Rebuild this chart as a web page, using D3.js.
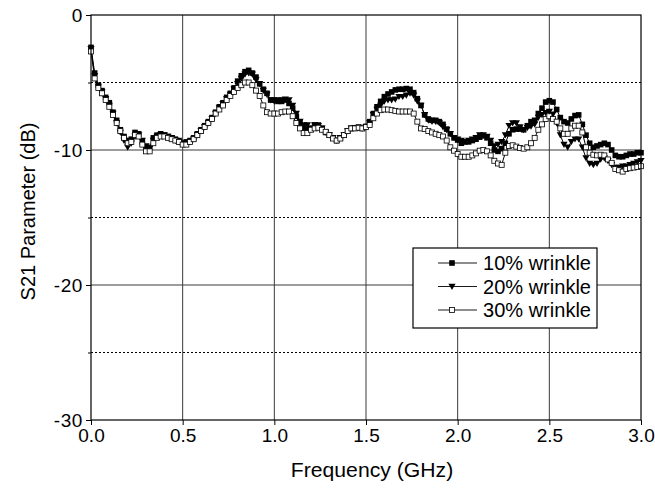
<!DOCTYPE html>
<html>
<head>
<meta charset="utf-8">
<script src="https://cdn.jsdelivr.net/npm/d3@7"></script>
<style>
  html, body { margin: 0; padding: 0; background: #fff; }
  svg text { font-family: Arial, "Liberation Sans", sans-serif; fill: #000; }
</style>
</head>
<body>
<svg id="chart" width="655" height="491"></svg>
<script>
// Frequency sweep 0–3 GHz, one sample every 20 MHz
const freqStart = 0, freqStop = 3, freqStep = 0.02;

const seriesNames = ["10% wrinkle", "20% wrinkle", "30% wrinkle"];

// S21 (dB) per sample
const s21Wrinkle10 = [
  -2.4, -4.3, -5.2, -5.6, -6.1, -6.5, -7.2, -7.8, -8.5, -9.0, -9.3, -9.2, -8.7, -8.8, -9.4, -9.9, -9.8, -9.1, -8.9, -8.8, -8.9, -9.0, -9.1, -9.2, -9.3,
  -9.5, -9.4, -9.3, -9.1, -8.8, -8.5, -8.2, -7.9, -7.6, -7.2, -6.8, -6.5, -6.1, -5.8, -5.4, -4.9, -4.5, -4.2, -4.1, -4.3, -4.6, -5.1, -5.5, -5.8, -6.3,
  -6.3, -6.4, -6.4, -6.3, -6.55, -6.9, -7.5, -8.0, -8.4, -8.5, -8.4, -8.15, -8.15, -8.4, -8.7, -8.9, -9.1, -9.3, -9.1, -8.9, -8.6, -8.4, -8.35, -8.3, -8.4,
  -8.25, -7.9, -7.3, -6.8, -6.4, -6.05, -5.85, -5.7, -5.55, -5.5, -5.5, -5.45, -5.5, -5.75, -6.2, -6.7, -7.4, -7.7, -7.8, -7.8, -7.9, -8.1, -8.45, -8.8, -9.1,
  -9.26, -9.5, -9.4, -9.4, -9.3, -9.2, -9.05, -8.95, -9.1, -9.5, -10.0, -10.1, -9.9, -9.5, -8.8, -8.5, -8.45, -8.45, -8.5, -8.2, -7.9, -7.8, -7.3, -6.9, -6.45,
  -6.35, -6.45, -7.0, -7.6, -7.9, -8.0, -7.7, -7.45, -7.4, -8.1, -8.9, -9.5, -9.8, -9.7, -9.6, -9.5, -9.6, -10.0, -10.4, -10.5, -10.5, -10.4, -10.3, -10.3, -10.2, -10.2
];
const s21Wrinkle20 = [
  -2.5, -4.5, -5.3, -5.7, -6.2, -6.7, -7.3, -8.0, -8.7, -9.3, -9.8, -9.5, -9.0, -8.9, -9.3, -9.7, -9.9, -9.3, -9.0, -8.9, -8.9, -9.0, -9.1, -9.3, -9.4,
  -9.5, -9.5, -9.4, -9.2, -8.9, -8.6, -8.3, -8.0, -7.7, -7.3, -6.9, -6.6, -6.2, -5.9, -5.5, -5.1, -4.7, -4.4, -4.3, -4.4, -4.8, -5.1, -5.6, -5.9, -6.3,
  -6.4, -6.3, -6.3, -6.25, -6.3, -6.7, -7.3, -7.9, -8.15, -8.15, -8.4, -8.15, -8.2, -8.4, -8.7, -8.9, -9.1, -9.3, -9.1, -8.9, -8.6, -8.4, -8.35, -8.35, -8.4,
  -8.3, -8.0, -7.4, -7.0, -6.7, -6.4, -6.3, -6.3, -6.25, -6.05, -6.05, -5.95, -5.8, -5.95, -6.4, -6.7, -7.4, -7.8, -7.9, -7.9, -8.0, -8.3, -8.5, -8.8, -9.1,
  -9.2, -9.3, -9.4, -9.3, -9.2, -9.1, -8.9, -8.9, -9.0, -9.3, -9.7, -9.6, -9.4, -8.9, -8.2, -8.0, -8.0, -8.3, -8.5, -8.35, -8.25, -8.1, -7.6, -7.4, -7.25,
  -7.15, -7.35, -8.0, -8.9, -9.6, -9.8, -9.4, -9.2, -9.2, -9.8, -10.6, -11.0, -11.1, -11.0, -10.7, -10.6, -10.8, -11.1, -11.3, -11.3, -11.2, -11.2, -11.1, -11.0, -10.9, -10.8
];
const s21Wrinkle30 = [
  -2.7, -4.7, -5.4, -5.8, -6.3, -6.8, -7.4, -8.0, -8.6, -9.1, -9.5, -9.4, -8.9, -9.0, -9.6, -10.1, -10.1, -9.5, -9.1, -9.0, -9.0, -9.1, -9.2, -9.3, -9.4,
  -9.6, -9.6, -9.4, -9.2, -8.9, -8.6, -8.3, -8.0, -7.7, -7.3, -7.0, -6.7, -6.3, -6.0, -5.7, -5.4, -5.2, -5.0, -5.0, -5.2, -5.6, -6.0, -6.7, -7.2, -7.3,
  -7.3, -7.3, -7.2, -7.15, -7.15, -7.5, -8.0, -8.4, -8.75, -8.75, -8.5, -8.4, -8.35, -8.5, -8.65, -8.9, -9.15, -9.3, -9.15, -8.9, -8.6, -8.4, -8.4, -8.35, -8.4,
  -8.3, -8.15, -7.65, -7.3, -7.05, -7.0, -7.0, -7.05, -7.1, -7.15, -7.15, -7.15, -7.15, -7.3, -7.9, -8.4, -8.45, -8.6, -8.7, -8.8, -8.9, -9.0, -9.3, -9.8, -10.05,
  -10.3, -10.5, -10.5, -10.5, -10.4, -10.25, -10.05, -10.0, -10.1, -10.4, -10.8, -11.0, -11.1, -10.2, -9.7, -9.65, -9.75, -9.85, -9.9, -9.8, -9.5, -9.1, -8.5, -8.1, -7.7,
  -7.5, -7.7, -7.9, -8.4, -8.8, -8.8, -8.4, -8.2, -8.2, -8.7, -9.8, -10.2, -10.35, -10.4, -10.35, -10.4, -10.7, -10.95, -11.4, -11.5, -11.6, -11.4, -11.35, -11.3, -11.25, -11.2
];

const xTickValues = [0, 0.5, 1.0, 1.5, 2.0, 2.5, 3.0];
const xTickLabels = ["0.0", "0.5", "1.0", "1.5", "2.0", "2.5", "3.0"];
const yMajorTicks = [0, -10, -20, -30];
const yMajorLabels = ["0", "-10", "-20", "-30"];
const yMinorTicks = [-5, -15, -25];

const xTitle = "Frequency (GHz)";
const yTitle = "S21 Parameter (dB)";

const freqs = d3.range(0, Math.round((freqStop - freqStart) / freqStep) + 1).map(i => +(freqStart + i * freqStep).toFixed(2));

const series = [
  { name: seriesNames[0], values: s21Wrinkle10, marker: "fsquare" },
  { name: seriesNames[1], values: s21Wrinkle20, marker: "triangle" },
  { name: seriesNames[2], values: s21Wrinkle30, marker: "osquare" }
];

const svg = d3.select("#chart");
const plot = { left: 91, right: 641, top: 15, bottom: 420 };

const x = d3.scaleLinear().domain([0, 3]).range([plot.left, plot.right]);
const y = d3.scaleLinear().domain([-30, 0]).range([plot.bottom, plot.top]);

// Grid: solid at the decade lines, dotted at the half-decade lines
const grid = svg.append("g");
grid.selectAll("line.vx").data(xTickValues.slice(1, -1)).join("line")
  .attr("x1", d => x(d)).attr("x2", d => x(d))
  .attr("y1", plot.top).attr("y2", plot.bottom)
  .attr("stroke", "#3a3a3a").attr("stroke-width", 1);
grid.selectAll("line.hy").data([-10, -20]).join("line")
  .attr("x1", plot.left).attr("x2", plot.right)
  .attr("y1", d => y(d)).attr("y2", d => y(d))
  .attr("stroke", "#3a3a3a").attr("stroke-width", 1);
grid.selectAll("line.hm").data(yMinorTicks).join("line")
  .attr("x1", plot.left).attr("x2", plot.right)
  .attr("y1", d => y(d)).attr("y2", d => y(d))
  .attr("stroke", "#000").attr("stroke-width", 1)
  .attr("stroke-dasharray", "2,2");

// Marker symbols
function drawMarker(sel, kind) {
  if (kind === "triangle") {
    sel.append("path")
      .attr("d", "M-3.6,-2.8 L3.6,-2.8 L0,3.4 Z")
      .attr("fill", "#000");
  } else if (kind === "fsquare") {
    sel.append("rect").attr("x", -2.8).attr("y", -2.8).attr("width", 5.6).attr("height", 5.6)
      .attr("fill", "#000");
  } else {
    sel.append("rect").attr("x", -2.5).attr("y", -2.5).attr("width", 5).attr("height", 5)
      .attr("fill", "#fff").attr("stroke", "#000").attr("stroke-width", 0.8);
  }
}

const line = d3.line().x(d => x(d[0])).y(d => y(d[1]));

series.forEach(s => {
  const pts = freqs.map((f, i) => [f, s.values[i]]);
  const g = svg.append("g");
  g.append("path").datum(pts).attr("d", line)
    .attr("fill", "none").attr("stroke", "#000").attr("stroke-width", 1);
  g.selectAll("g.m").data(pts).join("g")
    .attr("transform", d => `translate(${x(d[0])},${y(d[1])})`)
    .each(function () { drawMarker(d3.select(this), s.marker); });
});

// Frame
svg.append("rect")
  .attr("x", plot.left).attr("y", plot.top)
  .attr("width", plot.right - plot.left).attr("height", plot.bottom - plot.top)
  .attr("fill", "none").attr("stroke", "#000").attr("stroke-width", 1.2);

// Axes
const xAxis = d3.axisBottom(x).tickValues(xTickValues)
  .tickFormat((d, i) => xTickLabels[i]).tickSize(5).tickPadding(4);
const gx = svg.append("g").attr("transform", `translate(0,${plot.bottom})`).call(xAxis);
gx.select(".domain").remove();
gx.selectAll("text").attr("font-size", 19).attr("font-family", "Arial, 'Liberation Sans', sans-serif");
gx.selectAll("line").attr("stroke", "#000");

const yAxis = d3.axisLeft(y).tickValues(yMajorTicks)
  .tickFormat((d, i) => yMajorLabels[i]).tickSize(5).tickPadding(3);
const gy = svg.append("g").attr("transform", `translate(${plot.left},0)`).call(yAxis);
gy.select(".domain").remove();
gy.selectAll("text").attr("font-size", 19).attr("font-family", "Arial, 'Liberation Sans', sans-serif")
  .attr("letter-spacing", 0.6);
gy.selectAll("line").attr("stroke", "#000");

const gyMinor = svg.append("g").attr("transform", `translate(${plot.left},0)`)
  .call(d3.axisLeft(y).tickValues(yMinorTicks).tickFormat("").tickSize(3));
gyMinor.select(".domain").remove();

// Axis titles
svg.append("text")
  .attr("transform", `translate(${(plot.left + plot.right) / 2 + 6},477) scale(1.06,1)`)
  .attr("text-anchor", "middle").attr("font-size", 20)
  .text(xTitle);
svg.append("text")
  .attr("transform", `translate(35,${(plot.top + plot.bottom) / 2 - 6}) rotate(-90)`)
  .attr("text-anchor", "middle").attr("font-size", 20)
  .text(yTitle);

// Legend
const legend = svg.append("g").attr("transform", "translate(413,248)");
legend.append("rect").attr("width", 184).attr("height", 80)
  .attr("fill", "#fff").attr("stroke", "#000").attr("stroke-width", 1.2);
series.forEach((s, i) => {
  const row = legend.append("g").attr("transform", `translate(0,${15 + i * 23.5})`);
  row.append("line").attr("x1", 25).attr("x2", 64).attr("y1", 0).attr("y2", 0)
    .attr("stroke", "#000").attr("stroke-width", 0.9);
  const m = row.append("g").attr("transform", "translate(39,0)");
  drawMarker(m, s.marker);
  row.append("text").attr("x", 70).attr("y", 7).attr("font-size", 19.5)
    .attr("textLength", 108).attr("lengthAdjust", "spacingAndGlyphs")
    .text(s.name);
});
</script>
</body>
</html>
